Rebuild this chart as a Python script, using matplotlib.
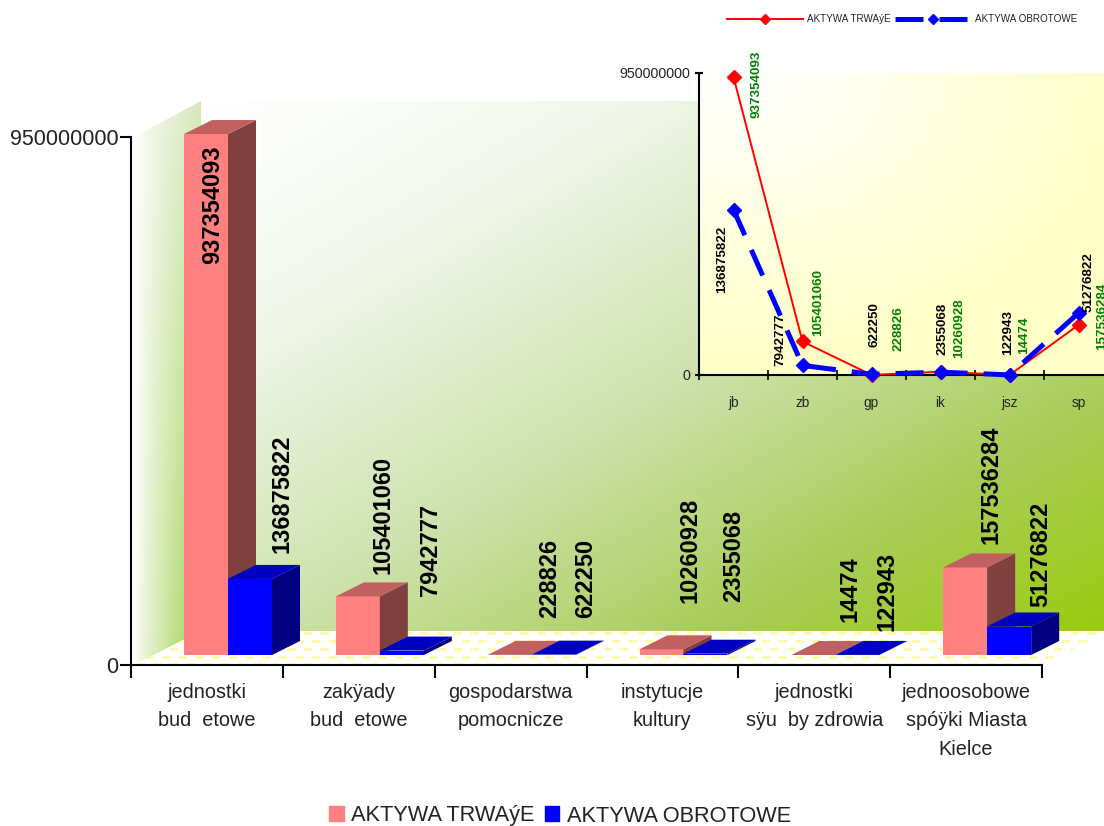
#!/usr/bin/env python3
import numpy as np
import matplotlib
matplotlib.use("Agg")
import matplotlib.pyplot as plt
from matplotlib.lines import Line2D
from matplotlib.patches import Patch, Polygon

plt.rcParams['font.family'] = ['Liberation Sans', 'DejaVu Sans']

# dati
categorie = ["jednostki\nbud  etowe", "zakÿady\nbud  etowe", "gospodarstwa\npomocnicze",
             "instytucje\nkultury", "jednostki\nsÿu  by zdrowia", "jednoosobowe\nspóÿki Miasta\nKielce"]
sigle = ["jb", "zb", "gp", "ik", "jsz", "sp"]
trwale = [937354093, 105401060, 228826, 10260928, 14474, 157536284]
obrotowe = [136875822, 7942777, 622250, 2355068, 122943, 51276822]
nome_trwale = "AKTYWA TRWAýE"
nome_obrotowe = "AKTYWA OBROTOWE"

# spostamento delle etichette, in pixel
off_trwale = [(7, -130), (25, 22), (40, 37), (29, 46), (37, 33), (26, 23)]
off_obrotowe = [(32, 26), (29, 55), (32, 37), (28, 52), (30, 24), (32, 20)]
off_verde = [(23.5, -41), (15.5, 5.5), (26.5, 24), (18.5, 14), (14.5, 21), (23.5, -25)]
off_nero = [(-11.5, -83), (-22.5, -1), (3.5, 27), (1.5, 17), (-1.5, 20), (10.5, 1)]

W, H = 1104, 826
fig = plt.figure(figsize=(W / 100, H / 100), dpi=100)


def box(x0, y0, x1, y1):
    return [x0 / W, 1 - y1 / H, (x1 - x0) / W, (y1 - y0) / H]


# SFONDO: pareti e pavimento in coordinate pixel
bg = fig.add_axes([0, 0, 1, 1], zorder=0)
bg.set_xlim(0, W)
bg.set_ylim(H, 0)
bg.axis("off")


def mix(a, b, t):
    return np.array(a)[None, None, :] * (1 - t[..., None]) + np.array(b)[None, None, :] * t[..., None]


# parete di fondo
u, v = np.meshgrid(np.linspace(0, 1, 300), np.linspace(0, 1, 200))
t = (u + v) / 2
stop = [0, 0.22, 0.52, 0.79, 1]
rosso = [255, 243, 207, 168, 154]
verde = [255, 248, 227, 204, 204]
blu = [255, 238, 176, 85, 16]
img = np.dstack([np.interp(t, stop, rosso), np.interp(t, stop, verde), np.interp(t, stop, blu)]) / 255
bg.imshow(img, extent=(201, W, 631, 101), aspect="auto", interpolation="bilinear", zorder=1)

# parete sinistra
u, v = np.meshgrid(np.linspace(0, 1, 60), np.linspace(0, 1, 200))
col = mix([215 / 255, 232 / 255, 190 / 255], [160 / 255, 208 / 255, 80 / 255], v)
img = np.ones_like(col) * (1 - u[..., None] ** 0.8) + col * u[..., None] ** 0.8
im = bg.imshow(img, extent=(134, 201, 665, 101), aspect="auto", interpolation="bilinear", zorder=1)
im.set_clip_path(Polygon([(134, 137), (201, 101), (201, 631), (134, 665)], transform=bg.transData))

# pavimento
floor = Polygon([(134, 665), (201, 631), (1109, 631), (1042, 665)], facecolor="white", edgecolor="none", zorder=2)
bg.add_patch(floor)
for k, yy in enumerate([633, 641, 649, 657, 664]):
    ln, = bg.plot([120, W + 20], [yy, yy], color="#fff9a8", lw=2, ls=((k % 2) * 3, (3, 3)),
                  dash_capstyle="butt", zorder=3)
    ln.set_clip_path(floor)

# pannello del grafico piccolo
u, v = np.meshgrid(np.linspace(0, 1, 200), np.linspace(0, 1, 200))
t = np.clip(np.sqrt((u - 0.1) ** 2 + (v * 1.0) ** 2) / 0.95, 0, 1)
bg.imshow(mix([1, 1, 1], [1, 1, 200 / 255], t), extent=(699, W, 375, 73), aspect="auto", zorder=4)
bg.set_xlim(0, W)
bg.set_ylim(H, 0)

# GRAFICO PRINCIPALE
ax = fig.add_axes(box(131, 137, 1042, 665), zorder=1)
ax.patch.set_alpha(0)
ax.set_xlim(0, 6)
ax.set_ylim(0, 950000000)
px = 6 / 911
py = 950000000 / 528
base = 10 * py
dx = 28 * px
dy = 14 * py
larg = 44 * px
inizio = 53 * px


def barra3d(x, val, c_front, c_side, c_top):
    ax.bar(x, val, larg, bottom=base, align="edge", color=c_front, clip_on=False, zorder=3)
    top = base + val
    ax.fill([x + larg, x + larg + dx, x + larg + dx, x + larg],
            [base, base + dy, top + dy, top], color=c_side, lw=0, clip_on=False, zorder=3)
    ax.fill([x, x + dx, x + larg + dx, x + larg],
            [top, top + dy, top + dy, top], color=c_top, lw=0, clip_on=False, zorder=3)


for i in range(len(categorie)):
    barra3d(i + inizio, trwale[i], "#ff8080", "#804040", "#c06060")
    barra3d(i + inizio + larg, obrotowe[i], "#0000ff", "#000080", "#0000c0")
    ax.annotate(str(trwale[i]), (i + inizio + larg / 2, base + trwale[i]), xytext=off_trwale[i],
                textcoords="offset pixels", rotation=90, ha="center", va="bottom",
                fontsize=17, fontweight="bold", annotation_clip=False, zorder=5)
    ax.annotate(str(obrotowe[i]), (i + inizio + 1.5 * larg, base + obrotowe[i]), xytext=off_obrotowe[i],
                textcoords="offset pixels", rotation=90, ha="center", va="bottom",
                fontsize=17, fontweight="bold", annotation_clip=False, zorder=5)

for s in ["top", "right"]:
    ax.spines[s].set_visible(False)
for s in ["left", "bottom"]:
    ax.spines[s].set_linewidth(1.5)
ax.set_yticks([0, 950000000], ["0", "950000000"], fontsize=15.5, color="#222222")
ax.tick_params(axis="y", length=8, width=1.5, pad=1)
ax.set_xticks(range(7), [""] * 7)
ax.tick_params(axis="x", which="major", length=9, width=1.5)
ax.set_xticks(np.arange(6) + 0.5, categorie, minor=True, fontsize=14.3, linespacing=1.62, color="#222222")
ax.tick_params(axis="x", which="minor", length=0, pad=13)

# GRAFICO PICCOLO
ins = fig.add_axes(box(699, 73, 1113, 375), zorder=2)
ins.patch.set_alpha(0)
ins.set_xlim(0, 6)
ins.set_ylim(0, 950000000)
xc = np.arange(6) + 0.5
ins.plot(xc, trwale, color="#ff0000", lw=1.4, marker="D", ms=7, clip_on=False, zorder=3)
for s in ["top", "right"]:
    ins.spines[s].set_visible(False)
for s in ["left", "bottom"]:
    ins.spines[s].set_linewidth(1.5)
ins.set_yticks([0, 950000000], ["0", "950000000"], fontsize=10.3, color="#222222")
ins.tick_params(axis="y", direction="inout", length=6, width=1.5, pad=3)
ins.set_xticks(range(7), [""] * 7)
ins.tick_params(axis="x", which="major", direction="inout", length=7, width=1.2)
ins.set_xticks(xc, sigle, minor=True, fontsize=9.8, color="#222222")
ins.tick_params(axis="x", which="minor", length=0, pad=15)

# la serie blu usa una seconda scala nascosta
ins2 = ins.twinx()
ins2.set_ylim(0, 250000000)
ins2.plot(xc, obrotowe, color="#0000ff", lw=3.6, dashes=(5.6, 3.2), dash_capstyle="butt",
          marker="D", ms=7, clip_on=False, zorder=3)
ins2.axis("off")

for i in range(6):
    ins.annotate(str(trwale[i]), (xc[i], trwale[i]), xytext=off_verde[i], textcoords="offset pixels",
                 rotation=90, ha="center", va="bottom", fontsize=9.6, color="#008000", fontweight="bold")
    ins2.annotate(str(obrotowe[i]), (xc[i], obrotowe[i]), xytext=off_nero[i], textcoords="offset pixels",
                  rotation=90, ha="center", va="bottom", fontsize=9.6, color="black", fontweight="bold")

# LEGENDE
fig.legend([Patch(color="#ff8080"), Patch(color="#0000ff")], [nome_trwale, nome_obrotowe],
           ncols=2, loc="center", bbox_to_anchor=(560 / W, 1 - 816 / H), frameon=False,
           fontsize=15.7, handlelength=0.68, handleheight=0.68, columnspacing=0.45,
           handletextpad=0.35, labelcolor="#222222", borderpad=0)

h1 = Line2D([], [], color="#ff0000", lw=1.4, marker="D", ms=5)
h2 = Line2D([], [], color="#0000ff", lw=3.6, marker="D", ms=5, dashes=(5.6, 3.2), dash_capstyle="butt")
fig.legend([h1, h2], [nome_trwale, nome_obrotowe], ncols=2, loc="center",
           bbox_to_anchor=(902 / W, 1 - 19 / H), frameon=False, fontsize=7.1,
           handlelength=7.7, columnspacing=0.5, handletextpad=0.4, labelcolor="#222222", borderpad=0)

fig.savefig("out.png", dpi=100)
